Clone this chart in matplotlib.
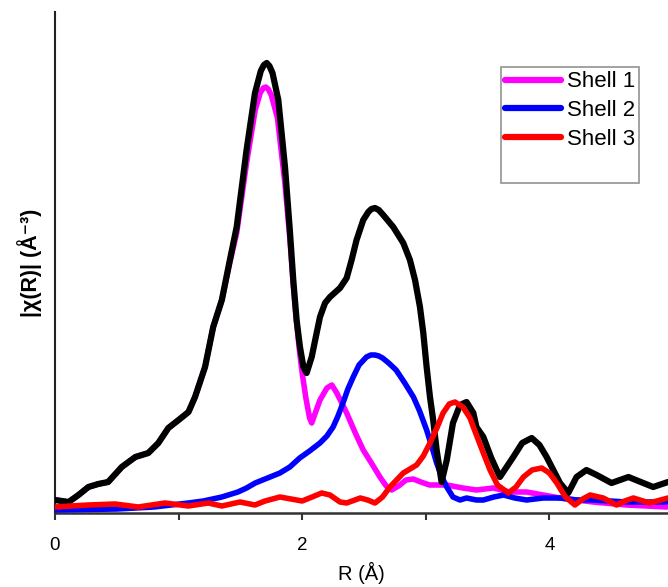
import matplotlib
matplotlib.use("Agg")
import matplotlib.pyplot as plt
from matplotlib.lines import Line2D

plt.rcParams['font.family'] = ['Liberation Sans', 'DejaVu Sans']

# Total fit magnitude (black)
r_total = [0, 0.11, 0.19, 0.27, 0.35, 0.43, 0.54, 0.65, 0.755, 0.836, 0.917, 1.0, 1.08, 1.133, 1.214, 1.28, 1.35,
           1.41, 1.47, 1.55, 1.618, 1.665, 1.69, 1.713, 1.735, 1.76, 1.807, 1.861, 1.90, 1.928, 1.955, 1.982, 2.01,
           2.036, 2.077, 2.117, 2.144, 2.185, 2.225, 2.306, 2.36, 2.40, 2.44, 2.494, 2.535, 2.56, 2.589, 2.62,
           2.656, 2.737, 2.818, 2.872, 2.913, 2.953, 2.98, 3.007, 3.034, 3.06, 3.088, 3.128, 3.17, 3.22, 3.277,
           3.33, 3.385, 3.41, 3.466, 3.53, 3.6, 3.708, 3.78, 3.857, 3.92, 3.978, 4.086, 4.153, 4.22, 4.30, 4.383,
           4.503, 4.64, 4.74, 4.84, 4.96]
chi_total = [13, 11, 18, 26, 29, 31, 46, 56, 60, 70, 85, 93, 101, 116, 146, 186, 213,
             250, 286, 363, 420, 442, 448, 450, 447, 440, 413, 346, 283, 233, 193, 166, 146,
             140, 156, 180, 196, 210, 216, 225, 235, 253, 273, 293, 301, 304, 305, 303,
             298, 286, 270, 253, 233, 206, 180, 146, 116, 93, 63, 31, 53, 90, 108,
             111, 100, 86, 76, 55, 36, 56, 70, 75, 68, 56, 30, 20, 36, 43, 38,
             30, 36, 31, 26, 31]

# Shell 1 (magenta)
r_shell1 = [0, 0.11, 0.19, 0.27, 0.35, 0.43, 0.54, 0.65, 0.755, 0.836, 0.917, 1.0, 1.08, 1.133, 1.214, 1.28, 1.35,
            1.41, 1.47, 1.55, 1.62, 1.66, 1.685, 1.705, 1.725, 1.75, 1.80, 1.86, 1.90, 1.93, 1.955, 1.98, 2.0,
            2.03, 2.06, 2.077, 2.10, 2.144, 2.2, 2.24, 2.28, 2.36, 2.43, 2.494, 2.56, 2.629, 2.68, 2.724, 2.78,
            2.84, 2.899, 2.96, 3.03, 3.17, 3.30, 3.41, 3.546, 3.68, 3.816, 3.95, 4.086, 4.355, 4.625, 4.95]
chi_shell1 = [13, 11, 18, 26, 29, 31, 46, 56, 60, 70, 85, 93, 101, 116, 146, 186, 213,
              248, 280, 350, 403, 420, 425, 426, 424, 418, 395, 330, 275, 225, 190, 160, 140,
              115, 95, 90, 98, 113, 125, 128, 120, 100, 80, 63, 50, 36, 27, 23, 27,
              33, 34, 31, 28, 28, 25, 23, 25, 21, 21, 18, 15, 11, 8, 6]

# Shell 2 (blue)
r_shell2 = [0, 0.5, 0.8, 1.08, 1.2, 1.35, 1.48, 1.55, 1.62, 1.72, 1.82, 1.9, 1.98, 2.06, 2.144, 2.2, 2.25,
            2.29, 2.33, 2.37, 2.413, 2.46, 2.52, 2.555, 2.589, 2.62, 2.65, 2.70, 2.76, 2.83, 2.9, 2.95, 3.007,
            3.05, 3.088, 3.13, 3.17, 3.22, 3.277, 3.33, 3.41, 3.466, 3.55, 3.63, 3.72, 3.816, 3.95, 4.086,
            4.22, 4.355, 4.625, 4.95]
chi_shell2 = [3, 4, 6, 10, 12, 16, 21, 25, 30, 35, 40, 46, 55, 62, 70, 77, 86,
              97, 110, 124, 136, 148, 156, 158, 158, 157, 155, 150, 143, 130, 116, 102, 83,
              66, 50, 36, 26, 16, 13, 15, 13, 13, 16, 18, 15, 13, 15, 15,
              13, 13, 11, 11]

# Shell 3 (red)
r_shell3 = [0, 0.13, 0.27, 0.486, 0.674, 0.89, 1.079, 1.24, 1.35, 1.497, 1.618, 1.70, 1.82, 1.955, 2.0, 2.08,
            2.158, 2.225, 2.306, 2.36, 2.47, 2.53, 2.589, 2.65, 2.71, 2.818, 2.926, 2.98, 3.034, 3.09, 3.14,
            3.19, 3.236, 3.30, 3.358, 3.385, 3.45, 3.52, 3.58, 3.668, 3.73, 3.79, 3.86, 3.938, 4.0, 4.06,
            4.13, 4.207, 4.27, 4.33, 4.436, 4.544, 4.61, 4.68, 4.81, 4.96]
chi_shell3 = [6, 7, 8, 9, 6, 10, 7, 10, 7, 11, 8, 12, 16, 13, 12, 16,
              20, 18, 11, 10, 15, 13, 10, 16, 26, 40, 48, 57, 70, 85, 100,
              109, 111, 106, 95, 86, 65, 43, 28, 20, 26, 36, 43, 45, 40, 30,
              16, 8, 14, 18, 15, 8, 12, 15, 10, 15]

labels = ['Shell 1', 'Shell 2', 'Shell 3']
colors = ['#ff00ff', '#0000ff', '#ff0000']

W, H = 668, 587
fig = plt.figure(figsize=(W / 100, H / 100), dpi=100)
ax = fig.add_axes([55 / W, 1 - 513 / H, (W - 55) / W, (513 - 12) / H])

ax.plot(r_shell1, chi_shell1, color=colors[0], lw=4.0, solid_joinstyle='round', solid_capstyle='round', zorder=2)
ax.plot(r_shell2, chi_shell2, color=colors[1], lw=4.0, solid_joinstyle='round', solid_capstyle='round', zorder=3)
ax.plot(r_total, chi_total, color='black', lw=4.5, solid_joinstyle='round', solid_capstyle='round', zorder=4)
ax.plot(r_shell3, chi_shell3, color=colors[2], lw=4.0, solid_joinstyle='round', solid_capstyle='round', zorder=5)

ax.set_xlim(0, 4.96)
ax.set_ylim(0, 501)

for s in ['top', 'right']:
    ax.spines[s].set_visible(False)
ax.spines['left'].set_linewidth(1.5)
ax.spines['bottom'].set_linewidth(1.8)
ax.spines['left'].set_color('#222222')
ax.spines['bottom'].set_color('#333333')

ax.set_yticks([])
ax.set_xticks([0, 2, 4])
ax.set_xticks([1, 3], minor=True)
ax.tick_params(axis='x', which='both', direction='out', length=5, width=1.5, color='#333333')
ax.tick_params(axis='x', which='major', labelsize=13.5, pad=12)

ax.set_xlabel('R (Å)', fontsize=14.5, labelpad=6)
ax.set_ylabel('|χ(R)| (Å⁻³)', fontsize=15.5, fontweight='bold', labelpad=9)

handles = [Line2D([], [], color=c, lw=4.5, solid_capstyle='round') for c in colors]
handles.append(Line2D([], [], color='none'))
leg = fig.legend(handles, labels + [' '], loc='upper left',
                 bbox_to_anchor=(501 / W, 1 - 67 / H), borderaxespad=0,
                 fontsize=16, handlelength=2.5, handletextpad=0.25, labelspacing=0.34,
                 borderpad=0.2, fancybox=False, frameon=True)
leg.get_frame().set_edgecolor('#777777')
leg.get_frame().set_linewidth(1.2)

fig.savefig('out.png', dpi=100)
